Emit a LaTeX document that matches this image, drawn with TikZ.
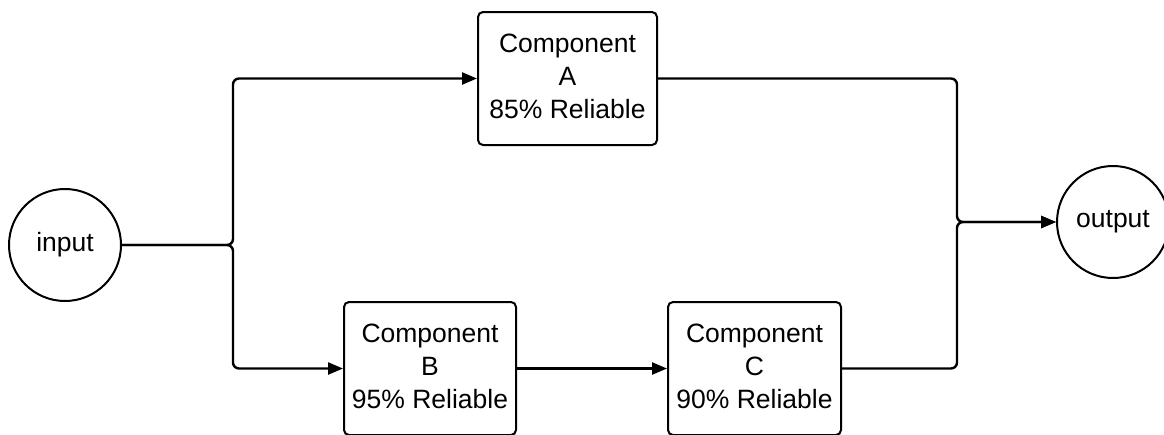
\documentclass[tikz,border=0pt]{standalone}
\usepackage{fontspec}
\setmainfont{Liberation Sans}
\usetikzlibrary{arrows.meta}
\newcommand{\complabel}[1]{\raisebox{4pt}{\begin{tabular}{@{}c@{}}#1\end{tabular}}}
\begin{document}
\begin{tikzpicture}[x=1pt,y=-1pt,
  every node/.style={font=\fontsize{26.5}{33}\selectfont},
  term/.style={draw,line width=2pt,circle,minimum size=112pt,inner sep=0pt},
  comp/.style={draw,line width=2pt,rounded corners=5pt,inner sep=0pt},
  conn/.style={line width=2.4pt,rounded corners=6pt,-{Triangle[length=15pt,width=12pt]}}]
\useasboundingbox (0,0) rectangle (1164,434);
\node[term] (in) at (65,245) {\raisebox{2pt}{input}};
\node[term] (out) at (1113,222) {\raisebox{2pt}{output}};
\node[comp,minimum width=179pt,minimum height=133pt] (A) at (567.5,78.5) {\complabel{Component\\A\\85\% Reliable}};
\node[comp,minimum width=172pt,minimum height=133pt] (B) at (430,368.5) {\complabel{Component\\B\\95\% Reliable}};
\node[comp,minimum width=173pt,minimum height=133pt] (C) at (754.5,368.5) {\complabel{Component\\C\\90\% Reliable}};
\coordinate (split) at (233,245);
\coordinate (merge) at (957,222);
\draw[conn] (in.east) -- (split) |- (A.west);
\draw[conn] (in.east) -- (split) |- (B.west);
\draw[conn] (B.east) -- (C.west);
\draw[conn] (A.east) -| (merge) -- (out.west);
\draw[conn] (C.east) -| (merge) -- (out.west);
\end{tikzpicture}
\end{document}
